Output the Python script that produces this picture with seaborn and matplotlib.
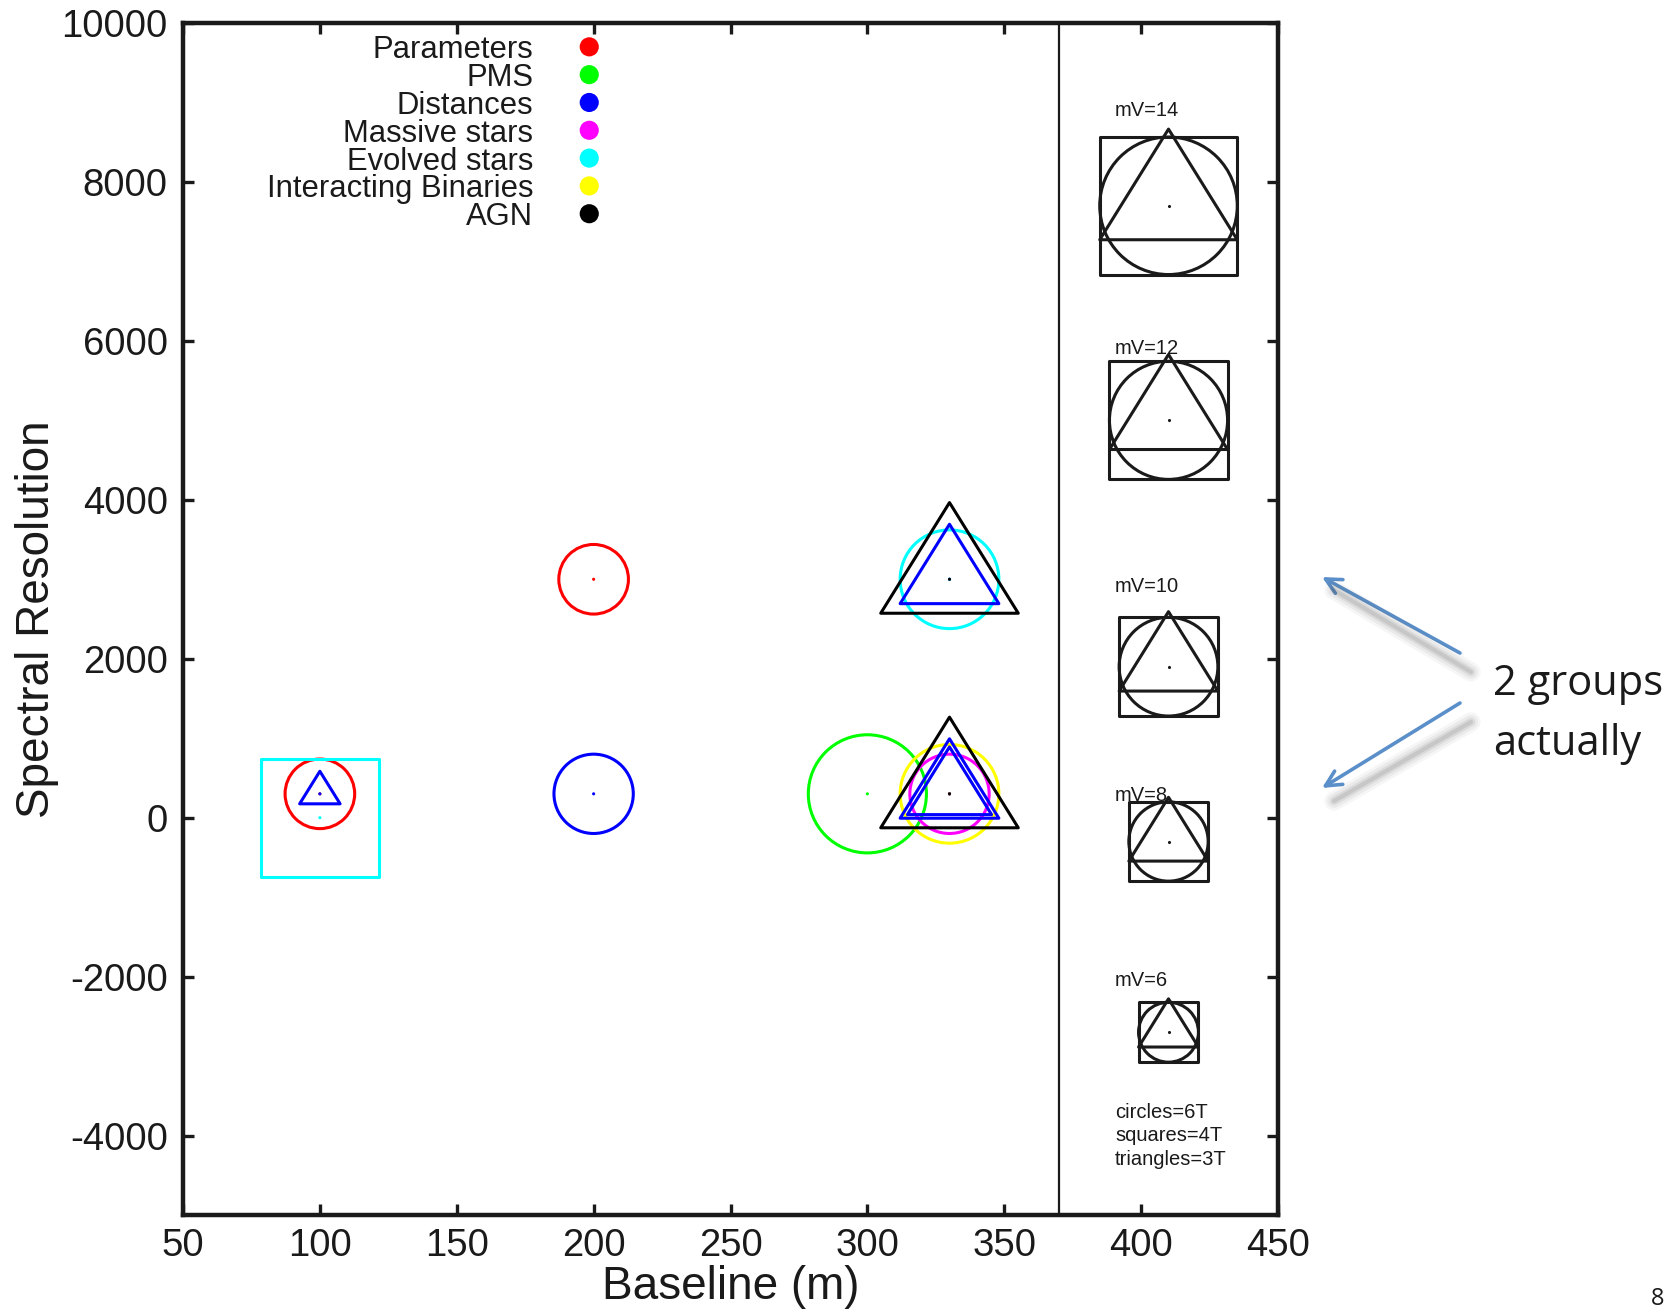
import numpy as np
import pandas as pd
import matplotlib
matplotlib.use("Agg")
import matplotlib.pyplot as plt
from matplotlib.path import Path
from matplotlib.lines import Line2D
import seaborn as sns

# ---------------- data ----------------
categories = ["Parameters", "PMS", "Distances", "Massive stars",
              "Evolved stars", "Interacting Binaries", "AGN"]
category_colors = ["#FF0000", "#00FF00", "#0000FF", "#FF00FF",
                   "#00FFFF", "#FFFF00", "#000000"]

obs_category = ["Parameters", "Parameters", "PMS", "Distances", "Distances",
                "Distances", "Distances", "Distances", "Massive stars",
                "Evolved stars", "Evolved stars", "Interacting Binaries",
                "AGN", "AGN"]
obs_baseline = [100, 200, 300, 100, 200, 330, 330, 330, 330, 100, 330, 330, 330, 330]
obs_resolution = [300, 3000, 300, 300, 300, 300, 300, 3000, 300, 0, 3000, 300, 300, 3000]
obs_array = ["6T", "6T", "6T", "3T", "6T", "3T", "3T", "3T", "6T", "4T", "6T", "6T", "3T", "3T"]
obs_mv = [7, 7, 12, 4, 8, 10, 8.5, 10, 8, 12, 10, 10, 14, 14]

key_mv = [14, 12, 10, 8, 6]
key_baseline = 410
key_resolution = [7700, 5000, 1900, -300, -2700]
key_labels = ["mV=14", "mV=12", "mV=10", "mV=8", "mV=6"]
key_label_resolution = [8930, 5935, 2930, 300, -2030]
array_labels = ["circles=6T", "squares=4T", "triangles=3T"]
array_label_resolution = [-3680, -3980, -4280]

x_ticks = [50, 100, 150, 200, 250, 300, 350, 400, 450]
y_ticks = [-4000, -2000, 0, 2000, 4000, 6000, 8000, 10000]

# ---------------- style ----------------
DPI = 100
W, H = 1679, 1310
sns.set_theme(style="ticks")
plt.rcParams["font.family"] = ["Liberation Sans", "DejaVu Sans"]
plt.rcParams["axes.unicode_minus"] = False
plt.rcParams["text.color"] = "k"

palette = dict(zip(categories, category_colors))
tri_path = Path([(0, 1.115), (-1, -0.494), (1, -0.494), (0, 1.115)], closed=True)
TRI_SCALE = 1.115
shape_marker = {"6T": "o", "4T": "s", "3T": tri_path}


def diam_pt(mv):
    return (9.705 * mv + 1.67) * 72.0 / DPI


def area(mv, arr):
    d = diam_pt(mv)
    if arr == "3T":
        d *= TRI_SCALE
    return d * d


fig = plt.figure(figsize=(W / DPI, H / DPI), dpi=DPI)
fig.patch.set_facecolor("white")
ax = fig.add_axes([183 / W, 1 - 1215 / H, (1278 - 183) / W, (1215 - 23) / H])
ax.set_facecolor("white")

df = pd.DataFrame({"category": obs_category, "baseline": obs_baseline,
                   "resolution": obs_resolution, "array": obs_array, "mv": obs_mv})

LW = 2.2
for arr in ["6T", "4T", "3T"]:
    sub = df[df["array"] == arr]
    if sub.empty:
        continue
    sizes = {m: area(m, arr) for m in sorted(sub["mv"].unique())}
    sns.scatterplot(data=sub, x="baseline", y="resolution", hue="category",
                    hue_order=categories, palette=palette, size="mv", sizes=sizes,
                    marker=shape_marker[arr], edgecolor="k", linewidth=LW,
                    legend=False, ax=ax, zorder=3)
    coll = ax.collections[-1]
    coll.set_edgecolors(coll.get_facecolors())
    coll.set_facecolors("none")
    coll.set_linewidths(LW)

# centre dots
sns.scatterplot(data=df, x="baseline", y="resolution", hue="category",
                hue_order=categories, palette=palette, s=5, linewidth=0,
                legend=False, ax=ax, zorder=4)

# ---- key panel (right) ----
kdf = pd.DataFrame({"baseline": [key_baseline] * len(key_mv),
                    "resolution": key_resolution, "mv": key_mv})
for arr in ["6T", "4T", "3T"]:
    sizes = {m: area(m, arr) for m in key_mv}
    sns.scatterplot(data=kdf, x="baseline", y="resolution", size="mv", sizes=sizes,
                    marker=shape_marker[arr], facecolor="none", edgecolor="k",
                    linewidth=LW, legend=False, ax=ax, zorder=3)
sns.scatterplot(data=kdf, x="baseline", y="resolution", color="k", s=5,
                linewidth=0, legend=False, ax=ax, zorder=4)

for lab, yv in zip(key_labels, key_label_resolution):
    ax.text(390.5, yv, lab, ha="left", va="center_baseline", fontsize=14.5)
for lab, yv in zip(array_labels, array_label_resolution):
    ax.text(390.5, yv, lab, ha="left", va="center_baseline", fontsize=14.5)

# ---- category legend (text left of dots) ----
leg_y = [9700 - 350 * i for i in range(len(categories))]
sns.scatterplot(x=[198.4] * len(categories), y=leg_y, hue=categories,
                hue_order=categories, palette=palette, s=190, linewidth=0,
                legend=False, ax=ax, zorder=4)
for cat, yv in zip(categories, leg_y):
    ax.text(178, yv, cat, ha="right", va="center_baseline", fontsize=22.3)

# separator
ax.axvline(370, color="k", lw=1.6, zorder=2)

# ---- axes ----
ax.set_xlim(50, 450)
ax.set_ylim(-5000, 10000)
ax.set_xticks(x_ticks)
ax.set_yticks(y_ticks)
ax.set_xticklabels([str(v) for v in x_ticks])
ax.set_yticklabels([str(v) for v in y_ticks])
ax.tick_params(direction="in", top=True, right=True, length=8, width=2.4,
               labelsize=27.5, color="k", labelcolor="k")
ax.tick_params(axis="x", pad=9)
ax.tick_params(axis="y", pad=11)
for sp in ax.spines.values():
    sp.set_visible(True)
    sp.set_linewidth(3.2)
    sp.set_color("k")
ax.set_xlabel("Baseline (m)", fontsize=33, labelpad=1, color="k")
ax.set_ylabel("Spectral Resolution", fontsize=33, labelpad=2, color="k")
ax.grid(False)

# ---- annotation "2 groups actually" ----
def fx(px):
    return px / W


def fy(py):
    return 1 - py / H


arrow_col = "#5B8FC9"
arrows = [((1460, 653), (1322, 577)), ((1460, 703), (1322, 788))]
for (tx, ty), (hx, hy) in arrows:
    # soft shadow
    for lw_, a_ in [(14, 0.05), (10, 0.07), (6, 0.10), (3, 0.14)]:
        fig.add_artist(Line2D([fx(tx + 11), fx(hx + 12)], [fy(ty + 19), fy(hy + 13)],
                              transform=fig.transFigure, color="#555555",
                              lw=lw_, alpha=a_, solid_capstyle="round"))
    ax.annotate("", xy=(hx, H - hy), xytext=(tx, H - ty),
                xycoords="figure pixels", textcoords="figure pixels",
                arrowprops=dict(arrowstyle="->", color=arrow_col, lw=2.6,
                                mutation_scale=28, shrinkA=0, shrinkB=0),
                annotation_clip=False)

fig.text(fx(1492.7), fy(695), "2 groups", ha="left", va="baseline",
         fontsize=30, family=["Open Sans", "DejaVu Sans"], color="k")
fig.text(fx(1492.7), fy(755), "actually", ha="left", va="baseline",
         fontsize=30, family=["Open Sans", "DejaVu Sans"], color="k")
fig.text(fx(1657.6), fy(1299), "8", ha="center", va="center",
         fontsize=17, family=["Open Sans", "DejaVu Sans"], color="k")

fig.savefig("out.png", dpi=DPI)
